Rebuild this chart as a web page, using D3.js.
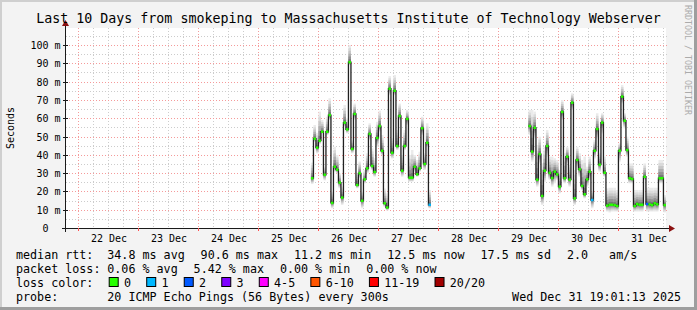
<!DOCTYPE html>
<html>
<head>
<meta charset="utf-8">
<script src="https://cdn.jsdelivr.net/npm/d3@7"></script>
<style>
body { margin: 0; background: #f3f3f3; }
svg { display: block; font-family: "DejaVu Sans Mono", monospace; }
text { white-space: pre; }
</style>
</head>
<body>
<svg id="graph" width="697" height="310"></svg>
<script>
// time window of the graph (last 10 days)
var startTime = new Date(2025, 11, 21, 19, 1, 13);
var endTime = new Date(2025, 11, 31, 19, 1, 13);

// x axis labels (one per day, at noon)
var dayLabels = ["22 Dec", "23 Dec", "24 Dec", "25 Dec", "26 Dec", "27 Dec", "28 Dec", "29 Dec", "30 Dec", "31 Dec"];

// y axis
var yTicks = [0, 10, 20, 30, 40, 50, 60, 70, 80, 90, 100];
var yTickLabels = ["  0  ", " 10 m", " 20 m", " 30 m", " 40 m", " 50 m", " 60 m", " 70 m", " 80 m", " 90 m", "100 m"];

// first block of hourly data, starts 25 Dec 21:00 (ms)
var seg1Start = new Date(2025, 11, 25, 21, 0, 0);
var seg1Median = [27.2, 48.8, 43.9, 47.7, 52.6, 29.1, 52.6, 61.7, 13.7, 33.5, 31.9, 24.8, 16.6, 57.6, 53.9, 90.6,
	43.2, 62.3, 23.5, 29.9, 14.9, 26.6, 32.6, 51.4, 33.9, 30.6, 49.2, 55.7, 42.2, 13.5, 11.2, 76.1,
	41.1, 75.0, 44.8, 61.2, 31.3, 44.8, 59.6, 27.5, 27.5, 33.5, 29.3, 32.6, 54.5, 35.0, 46.6, 12.7];
var seg1Hi = [35.7, 56.3, 52.0, 63.6, 59.0, 33.5, 60.8, 70.9, 19.8, 44.4, 39.9, 29.9, 22.6, 67.2, 59.9, 100.0,
	48.0, 68.0, 30.0, 36.3, 19.8, 31.7, 40.8, 57.2, 43.5, 38.1, 58.0, 64.1, 50.8, 21.6, 18.9, 83.0,
	49.0, 83.6, 53.5, 68.0, 39.9, 53.5, 64.5, 39.9, 42.6, 39.9, 37.2, 41.7, 60.8, 40.8, 57.2, 20.8];
var seg1Lo = [24.0, 47.0, 40.8, 46.0, 51.7, 26.0, 50.8, 59.0, 10.8, 30.8, 29.9, 21.7, 12.6, 55.4, 51.7, 89.0,
	40.8, 59.0, 21.7, 27.2, 10.8, 24.4, 29.9, 48.0, 31.7, 28.0, 44.4, 52.6, 39.9, 11.6, 9.5, 72.6,
	38.0, 72.6, 42.6, 59.0, 28.0, 42.6, 56.3, 25.3, 25.3, 30.8, 28.0, 30.8, 50.8, 31.7, 44.4, 10.8];
var seg1Loss = [0, 0, 0, 0, 0, 0, 0, 0, 0, 0, 0, 0, 0, 0, 0, 0,
	0, 0, 0, 0, 0, 0, 0, 0, 0, 0, 0, 0, 0, 0, 0, 0,
	0, 0, 0, 0, 0, 0, 0, 0, 0, 0, 0, 0, 0, 0, 0, 1];

// second block, starts 29 Dec 12:00
var seg2Start = new Date(2025, 11, 29, 12, 0, 0);
var seg2Median = [55.7, 41.7, 54.8, 26.4, 40.4, 17.5, 31.3, 44.8, 30.1, 27.3, 30.8, 29.3, 22.6, 63.4, 27.2, 39.0,
	26.4, 68.5, 16.2, 37.2, 32.1, 23.0, 18.4, 26.6, 30.8, 15.3, 42.2, 54.1, 34.6, 57.6, 30.2, 12.2,
	12.7, 12.7, 12.5, 12.0, 42.2, 71.8, 58.6, 42.6, 27.2, 26.8, 12.0, 13.1, 12.7, 12.7, 28.0, 13.1,
	12.9, 12.5, 13.5, 12.9, 27.2, 27.2, 12.5];
var seg2Hi = [64.5, 64.5, 63.6, 45.4, 49.9, 35.3, 44.4, 53.5, 39.0, 39.0, 38.1, 37.2, 31.7, 69.9, 40.8, 44.4,
	34.4, 73.6, 31.7, 44.4, 40.8, 37.2, 39.0, 33.5, 39.0, 19.9, 48.0, 62.7, 40.8, 62.7, 39.0, 21.6,
	22.0, 22.0, 22.0, 20.8, 46.3, 78.1, 62.7, 49.9, 35.3, 35.3, 20.8, 20.8, 20.8, 20.8, 35.3, 22.0,
	22.0, 22.0, 22.0, 22.0, 37.2, 37.2, 18.0];
var seg2Lo = [50.8, 36.3, 49.0, 22.6, 35.3, 12.6, 25.3, 39.0, 26.2, 22.6, 24.4, 26.2, 19.0, 59.0, 24.4, 35.3,
	22.6, 64.5, 12.6, 33.5, 28.0, 20.8, 16.2, 22.6, 26.2, 10.8, 38.0, 49.0, 30.8, 51.7, 28.0, 9.0,
	8.5, 9.0, 9.0, 9.0, 36.3, 68.1, 54.4, 39.0, 24.4, 24.4, 9.0, 9.0, 9.0, 9.0, 26.2, 9.0,
	9.0, 9.0, 9.0, 9.0, 24.4, 24.4, 8.5];
var seg2Loss = [0, 0, 0, 0, 0, 0, 0, 0, 0, 0, 0, 0, 0, 0, 0, 0,
	0, 0, 0, 0, 0, 0, 0, 0, 0, 1, 0, 0, 0, 0, 0, 0,
	0, 0, 0, 0, 0, 0, 0, 0, 0, 0, 0, 0, 0, 0, 0, 2,
	0, 0, 0, 0, 0, 0, 0];

// loss legend
var lossLabels = ["0", "1", "2", "3", "4-5", "6-10", "11-19", "20/20"];
var lossColors = ["#26ff00", "#00b8ff", "#0059ff", "#7e00ff", "#ff00ff", "#ff5500", "#ff0000", "#a10000"];

// legend texts
var titleText = "Last 10 Days from smokeping to Massachusetts Institute of Technology Webserver";
var rttStats = ["34.8 ms avg", "90.6 ms max", "11.2 ms min", "12.5 ms now", "17.5 ms sd", "2.0   am/s"];
var lossStats = ["0.06 % avg", "5.42 % max", "0.00 % min", "0.00 % now"];
var probeText = "20 ICMP Echo Pings (56 Bytes) every 300s";
var stampText = "Wed Dec 31 19:01:13 2025";

var HOUR = 3600 * 1000;

var svg = d3.select("#graph");

// background + 3d frame
svg.append("rect").attr("width", 697).attr("height", 310).attr("fill", "#f3f3f3");
svg.append("rect").attr("x", 0).attr("y", 0).attr("width", 697).attr("height", 2).attr("fill", "#cfcfcf");
svg.append("rect").attr("x", 0).attr("y", 0).attr("width", 2).attr("height", 310).attr("fill", "#cfcfcf");
svg.append("rect").attr("x", 694).attr("y", 0).attr("width", 3).attr("height", 310).attr("fill", "#9e9e9e");
svg.append("rect").attr("x", 0).attr("y", 307).attr("width", 697).attr("height", 3).attr("fill", "#9e9e9e");

// plot area (note: "top" is reserved in window scope)
var pLeft = 66, pRight = 666, pTop = 28, pBottom = 228;

var x = d3.scaleTime().domain([startTime, endTime]).range([pLeft, pRight]);
var y = d3.scaleLinear().domain([0, 200 / 1.83]).range([pBottom, pTop]);

// canvas
svg.append("rect").attr("x", pLeft).attr("y", pTop).attr("width", pRight - pLeft).attr("height", pBottom - pTop).attr("fill", "#ffffff");

// grid
var grid = svg.append("g");
function px(v) { return Math.round(v) + 0.5; }

var minorTimes = d3.timeHour.every(6).range(startTime, endTime).filter(function (d) { return d.getHours() != 0; });
var majorTimes = d3.timeDay.range(startTime, endTime);
var minorCol = "#cccccc", majorCol = "#f59a9a";

minorTimes.forEach(function (d) {
	grid.append("line").attr("x1", px(x(d))).attr("x2", px(x(d))).attr("y1", pTop).attr("y2", pBottom)
		.attr("stroke", minorCol).attr("stroke-dasharray", "1,2");
});
for (var v = 5; v <= 105; v += 10) {
	grid.append("line").attr("x1", pLeft).attr("x2", pRight + 2).attr("y1", px(y(v))).attr("y2", px(y(v)))
		.attr("stroke", minorCol).attr("stroke-dasharray", "1,2");
}
majorTimes.forEach(function (d) {
	grid.append("line").attr("x1", px(x(d))).attr("x2", px(x(d))).attr("y1", pTop).attr("y2", pBottom)
		.attr("stroke", majorCol).attr("stroke-dasharray", "1,2");
});
yTicks.forEach(function (v) {
	if (v == 0) return;
	grid.append("line").attr("x1", pLeft).attr("x2", pRight + 2).attr("y1", px(y(v))).attr("y2", px(y(v)))
		.attr("stroke", majorCol).attr("stroke-dasharray", "1,2");
});

// data
function makePoints(start, med, hi, lo, loss) {
	return med.map(function (m, i) {
		return {t0: new Date(+start + i * HOUR), t1: new Date(+start + (i + 1) * HOUR), med: m, hi: hi[i], lo: lo[i], loss: loss[i]};
	});
}
var segments = [
	makePoints(seg1Start, seg1Median, seg1Hi, seg1Lo, seg1Loss),
	makePoints(seg2Start, seg2Median, seg2Hi, seg2Lo, seg2Loss)
];

function lossColor(l) {
	if (l <= 0) return lossColors[0];
	if (l <= 1) return lossColors[1];
	if (l <= 2) return lossColors[2];
	if (l <= 3) return lossColors[3];
	if (l <= 5) return lossColors[4];
	if (l <= 10) return lossColors[5];
	if (l < 20) return lossColors[6];
	return lossColors[7];
}

// smoke: bands from outer (light) to inner (dark)
var smokeShades = ["#ebebeb", "#dadada", "#c6c6c6", "#aeaeae", "#919191", "#747474"];
var smoke = svg.append("g");
segments.forEach(function (seg) {
	smokeShades.forEach(function (c, k) {
		var f = k / smokeShades.length;
		smoke.selectAll(null)
			.data(seg)
			.enter().append("rect")
			.attr("x", function (d) { return x(d.t0); })
			.attr("width", function (d) { return x(d.t1) - x(d.t0); })
			.attr("y", function (d) { return y(d.hi - (d.hi - d.med) * f); })
			.attr("height", function (d) { return y(d.lo + (d.med - d.lo) * f) - y(d.hi - (d.hi - d.med) * f); })
			.attr("fill", c);
	});
});

// median step line
var medLine = d3.line()
	.curve(d3.curveStepAfter)
	.x(function (d) { return x(d.t); })
	.y(function (d) { return y(d.v); });

segments.forEach(function (seg) {
	var pts = seg.map(function (d) { return {t: d.t0, v: d.med}; });
	pts.push({t: seg[seg.length - 1].t1, v: seg[seg.length - 1].med});
	svg.append("path")
		.datum(pts)
		.attr("d", medLine)
		.attr("fill", "none")
		.attr("stroke", "#202020")
		.attr("stroke-width", 1.3);

	svg.selectAll(null)
		.data(seg)
		.enter().append("rect")
		.attr("x", function (d) { return x(d.t0); })
		.attr("width", function (d) { return x(d.t1) - x(d.t0); })
		.attr("y", function (d) { return y(d.med) - 1.25; })
		.attr("height", 2.5)
		.attr("fill", function (d) { return lossColor(d.loss); });
});

// axes
var axisCol = "#1a1a1a";
svg.append("line").attr("x1", 62).attr("x2", pRight + 4).attr("y1", pBottom + 0.5).attr("y2", pBottom + 0.5).attr("stroke", axisCol);
svg.append("line").attr("x1", pLeft - 0.5).attr("x2", pLeft - 0.5).attr("y1", pBottom + 4).attr("y2", pTop - 3).attr("stroke", axisCol);
svg.append("path").attr("d", "M" + (pRight + 3) + "," + (pBottom - 3) + "L" + (pRight + 9) + "," + (pBottom + 0.5) + "L" + (pRight + 3) + "," + (pBottom + 4) + "Z").attr("fill", "#8b1010");
svg.append("path").attr("d", "M" + (pLeft - 4) + "," + (pTop - 2) + "L" + (pLeft - 0.5) + "," + (pTop - 8) + "L" + (pLeft + 3) + "," + (pTop - 2) + "Z").attr("fill", "#8b1010");

// y ticks and labels
yTicks.forEach(function (v, i) {
	var yy = px(y(v));
	svg.append("line").attr("x1", pLeft - 3).attr("x2", pLeft + 2).attr("y1", yy).attr("y2", yy).attr("stroke", axisCol);
	svg.append("text").attr("x", 30.5).attr("y", yy + 3.5)
		.attr("font-size", "10px").attr("fill", "#000")
		.text(yTickLabels[i]);
});

// x ticks
majorTimes.forEach(function (d) {
	svg.append("line").attr("x1", px(x(d))).attr("x2", px(x(d))).attr("y1", pBottom).attr("y2", pBottom + 3).attr("stroke", "#ff5050");
});

// x labels at noon
var xAxis = d3.axisBottom(x)
	.tickValues(dayLabels.map(function (s) { return new Date(2025, 11, +s.slice(0, 2), 12, 0, 0); }))
	.tickSize(0)
	.tickFormat(function (d, i) { return dayLabels[i]; });
var xg = svg.append("g").attr("transform", "translate(0," + pBottom + ")").call(xAxis);
xg.select(".domain").remove();
xg.selectAll("text").attr("font-family", "DejaVu Sans Mono").attr("font-size", "10px").attr("fill", "#000").attr("dy", null).attr("y", 13.5);

// title and side texts
svg.append("text").attr("x", 348.5).attr("y", 23).attr("text-anchor", "middle")
	.attr("font-size", "13.3px").attr("fill", "#000").text(titleText);
svg.append("text").attr("transform", "translate(14,128) rotate(-90)").attr("text-anchor", "middle")
	.attr("font-size", "10px").attr("fill", "#000").text("Seconds");
svg.append("text").attr("transform", "translate(684.5,5) rotate(90)")
	.attr("font-size", "8.3px").attr("fill", "#ababab").text("RRDTOOL / TOBI OETIKER");

// legend
var cw = 7.02, fs = "11.7px";
function legendLine(yb, label, items) {
	svg.append("text").attr("x", 16).attr("y", yb).attr("font-size", fs).attr("fill", "#000").text(label);
	var xx = 107.3;
	items.forEach(function (s) {
		svg.append("text").attr("x", xx).attr("y", yb).attr("font-size", fs).attr("fill", "#000").text(s);
		xx += s.length * cw + 16.1;
	});
}
legendLine(258.5, "median rtt:", rttStats);
legendLine(272.5, "packet loss:", lossStats);

svg.append("text").attr("x", 16).attr("y", 286.5).attr("font-size", fs).attr("fill", "#000").text("loss color:");
var bx = 108.7;
lossLabels.forEach(function (s, i) {
	svg.append("rect").attr("x", bx + 0.5).attr("y", 277.5).attr("width", 9).attr("height", 9)
		.attr("fill", lossColors[i]).attr("stroke", "#000").attr("stroke-width", 1);
	svg.append("text").attr("x", bx + 15.3).attr("y", 286.5).attr("font-size", fs).attr("fill", "#000").text(s);
	bx += 15.3 + s.length * cw + 15.2;
});

svg.append("text").attr("x", 16).attr("y", 300.5).attr("font-size", fs).attr("fill", "#000").text("probe:");
svg.append("text").attr("x", 107.3).attr("y", 300.5).attr("font-size", fs).attr("fill", "#000").text(probeText);
svg.append("text").attr("x", 681).attr("y", 300.5).attr("text-anchor", "end").attr("font-size", fs).attr("fill", "#000").text(stampText);
</script>
</body>
</html>
